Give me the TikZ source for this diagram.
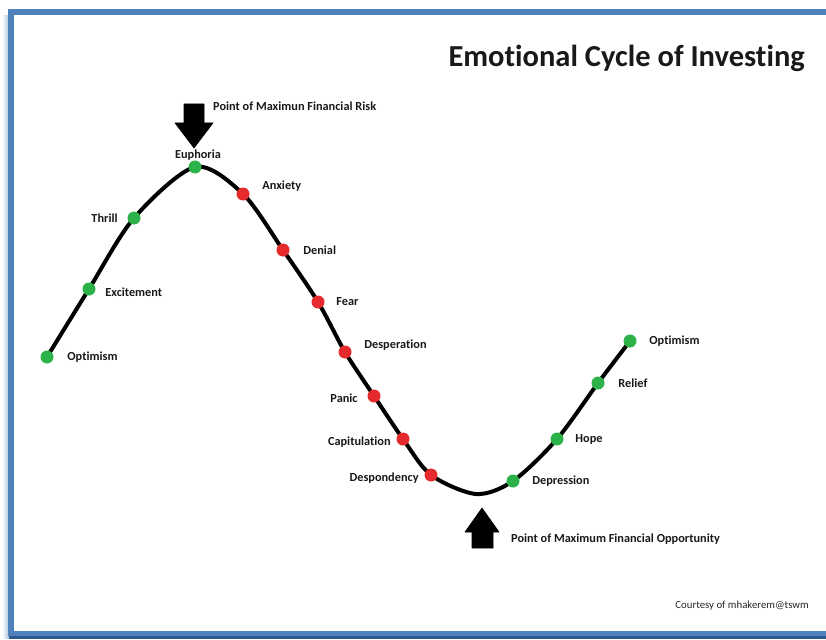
\documentclass[tikz,border=0pt]{standalone}
\usepackage{fontspec}
\setmainfont{Carlito}[Ligatures=NoCommon]
\usetikzlibrary{positioning, backgrounds}

\definecolor{frameblue}{HTML}{4F81BD}
\definecolor{framedark}{HTML}{2C5A8C}
\definecolor{upgreen}{HTML}{2DB24A}
\definecolor{downred}{HTML}{E52A2E}

\begin{document}
\begin{tikzpicture}[
        x=1pt, y=-1pt,
        node distance=12pt,
        dot/.style={circle, inner sep=0pt, minimum size=13pt},
        good/.style={dot, fill=upgreen},
        bad/.style={dot, fill=downred},
        lbl/.style={inner sep=0pt, text=black!90, font=\bfseries\fontsize{12.3}{14}\selectfont},
        curve/.style={line width=4pt, line cap=round}
    ]

    \tikzset{
    blockarrow/.style={fill=black, draw=black, line width=0.6pt, line join=round},
    title/.style={inner sep=0pt, text=black!90, font=\bfseries\fontsize{30.5}{34}\selectfont},
    credit/.style={inner sep=0pt, text=black!85, font=\fontsize{10.8}{12}\selectfont}
}

    \useasboundingbox (0,0) rectangle (826,639);

    % frame with its shadow
    \shade[left color=white, right color=frameblue!45] (2,16) rectangle (8.5,638);
    \fill[framedark] (8.5,636.2) rectangle (830,639);
    \draw[frameblue, line width=5.5pt] (11.2,12) rectangle (840,633.5);

    \node[title, anchor=east] (head) at (805,58) {Emotional Cycle of Investing};
    \node[credit, anchor=east] (thanks) at (809,606) {Courtesy of mhakerem@tswm};

    % points of the cycle
    \node[good] (opt1) at (47,357) {};
    \node[good] (exc) at (89,289) {};
    \node[good] (thr) at (134,218) {};
    \node[good] (eup) at (195,167) {};
    \node[bad] (anx) at (243,194) {};
    \node[bad] (den) at (283,250) {};
    \node[bad] (fea) at (318,302) {};
    \node[bad] (des) at (345,352) {};
    \node[bad] (pan) at (374,396) {};
    \node[bad] (cap) at (403,439) {};
    \node[bad] (dsp) at (431,475) {};
    \coordinate (low) at (476,494);
    \node[good] (dep) at (513,481) {};
    \node[good] (hop) at (557,439) {};
    \node[good] (rel) at (598,383) {};
    \node[good] (opt2) at (630,341) {};

    \begin{scope}[on background layer]
    \draw[curve] plot[smooth] coordinates {(opt1.center) (exc.center) (thr.center) (eup.center)
        (anx.center) (den.center) (fea.center) (des.center) (pan.center) (cap.center)
        (dsp.center) (low) (dep.center) (hop.center) (rel.center) (opt2.center)};
    \end{scope}

    \node[lbl, right=13.5pt of opt1] {Optimism};
    \node[lbl, right=9.5pt of exc, yshift=-3pt] {Excitement};
    \node[lbl, left=9.5pt of thr] {Thrill};
    \node[lbl, above=0pt of eup, xshift=3pt] {Euphoria};
    \node[lbl, right=12.5pt of anx, yshift=8pt] {Anxiety};
    \node[lbl, right=13.5pt of den] {Denial};
    \node[lbl, right=11.5pt of fea] {Fear};
    \node[lbl, right=12.5pt of des, yshift=7pt] {Desperation};
    \node[lbl, left=9.5pt of pan, yshift=-2pt] {Panic};
    \node[lbl, left=5.5pt of cap, yshift=-3pt] {Capitulation};
    \node[lbl, left=5.5pt of dsp, yshift=-3pt] {Despondency};
    \node[lbl, right=12.5pt of dep] {Depression};
    \node[lbl, right=11.5pt of hop] {Hope};
    \node[lbl, right=13.5pt of rel] {Relief};
    \node[lbl, right=12.5pt of opt2] {Optimism};

    % the two block arrows
    \coordinate (risktip) at (194,148);
    \coordinate (chancetip) at (482,508);
    \draw[blockarrow] (risktip) -- ++(-19,-25) -- ++(9,0) -- ++(0,-19) -- ++(20,0)
        -- ++(0,19) -- ++(9,0) -- cycle;
    \draw[blockarrow] (chancetip) -- ++(-17,24) -- ++(7,0) -- ++(0,16) -- ++(21,0)
        -- ++(0,-16) -- ++(6,0) -- cycle;
    \node[lbl, anchor=west] (risk) at (213,106) {Point of Maximun Financial Risk};
    \node[lbl, anchor=west] (chance) at (511,539) {Point of Maximum Financial Opportunity};
\end{tikzpicture}
\end{document}
